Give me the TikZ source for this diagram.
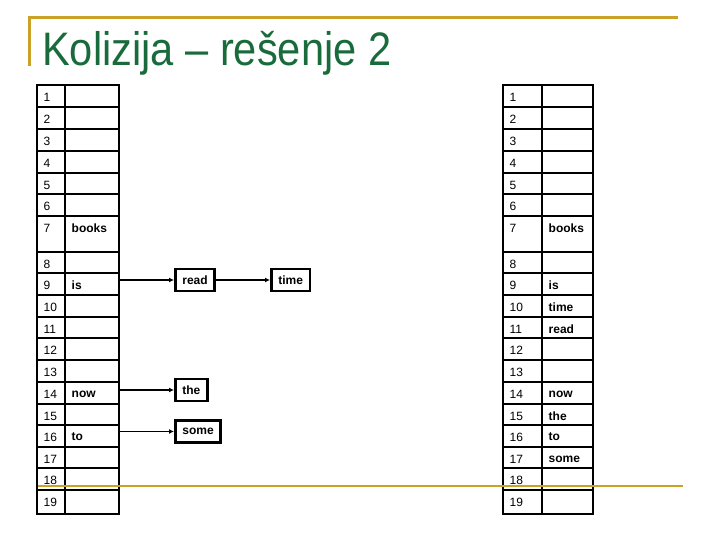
\documentclass[tikz,border=0pt]{standalone}
\usepackage{fontspec}
\setmainfont{Liberation Sans}
\usetikzlibrary{arrows.meta}

\definecolor{gold}{HTML}{C9A227}
\definecolor{titlegreen}{HTML}{1A6B3C}

\begin{document}
\begin{tikzpicture}[x=1pt,y=-1pt,
  cell/.style={draw, line width=2.8pt, inner sep=0pt, outer sep=0pt, anchor=north west},
  num/.style={font=\fontsize{12}{12}\selectfont, inner sep=0pt, anchor=west},
  word/.style={font=\bfseries\fontsize{12}{12}\selectfont, inner sep=0pt, anchor=west},
  chain/.style={draw, line width=2.8pt, anchor=west, inner xsep=7pt, inner ysep=0pt,
    minimum height=22pt, font=\bfseries\fontsize{12}{12}\selectfont},
  ptr/.style={-{Latex[length=5pt,width=5pt]}, line width=1.4pt},
  goldline/.style={gold, line width=2.6pt}]

\useasboundingbox (0,0) rectangle (720,540);

% row number / top / bottom
\def\rowlist{1/85/107,2/107/129,3/129/151,4/151/173,5/173/194,6/194/216,
 7/216/252,8/252/273,9/273/295,10/295/317,11/317/338,12/338/360,13/360/382,
 14/382/404,15/404/425,16/425/447,17/447/468,18/468/490,19/490/514}

\newcommand{\hashtable}[4] % [prefix][left][sep][right]
{
 \pgfmathsetmacro{\wa}{#3-#2}
 \pgfmathsetmacro{\wb}{#4-#3}
 \foreach \n/\ya/\yb in \rowlist {
  \pgfmathsetmacro{\hh}{\yb-\ya}
  \node[cell, minimum width=\wa pt, minimum height=\hh pt] (#1n\n) at (#2,\ya) {};
  \node[cell, minimum width=\wb pt, minimum height=\hh pt] (#1c\n) at (#3,\ya) {};
  \node[num] (#1l\n) at ([xshift=6.5pt,yshift=-12pt]#1n\n.north west) {\n};
 }
}

% title
\node[anchor=base west, inner sep=0pt, text=titlegreen,
  font=\fontsize{47}{47}\selectfont] (title) at (42,66)
  {\scalebox{0.885}[1]{Kolizija – rešenje 2}};

% left table: chaining
\hashtable{a}{37}{65}{119}
\foreach \n/\w in {7/books,9/is,14/now,16/to}
  \node[word] (aw\n) at ([xshift=6.5pt,yshift=-12pt]ac\n.north west) {\w};

\node[chain] (read) at (174,280) {read};
\node[chain] (time) at (270,280) {time};
\node[chain] (the) at (174,390) {the};
\node[chain] (some) at (174,431.5) {some};

\draw[ptr] (ac9.east |- read) -- (read);
\draw[ptr] (read) -- (time);
\draw[ptr] (ac14.east |- the) -- (the);
\draw[ptr] (ac16.east |- some) -- (some);

% right table: open addressing
\hashtable{b}{503}{542}{593}
\foreach \n/\w in {7/books,9/is,10/time,11/read,14/now,15/the,16/to,17/some}
  \node[word] (bw\n) at ([xshift=6.5pt,yshift=-12pt]bc\n.north west) {\w};

% slide frame
\draw[goldline] (29.5,66) -- (29.5,17.5) -- (678,17.5);
\draw[goldline] (38,486) -- (683,486);

\end{tikzpicture}
\end{document}
